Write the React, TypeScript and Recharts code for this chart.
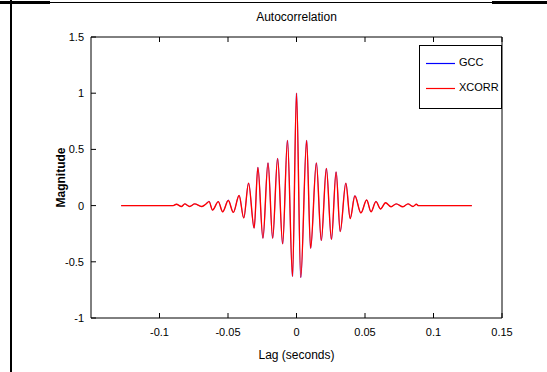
import { Line, LineChart, XAxis, YAxis, Label } from "recharts";

// lag (s) of each turning point
const lags = [
  -0.128, -0.09, -0.0877, -0.084, -0.0816, -0.078, -0.0743, -0.0693, -0.0665, -0.0638, -0.0613, -0.0571,
  -0.0539, -0.0498, -0.0461, -0.0419, -0.0385, -0.035, -0.0309, -0.0282, -0.0245, -0.0208, -0.0174, -0.0138,
  -0.0101, -0.0066, -0.0029, 0, 0.0031, 0.0074, 0.0103, 0.0145, 0.0181, 0.0218, 0.0255, 0.0289, 0.0319,
  0.036, 0.0392, 0.0426, 0.047, 0.0512, 0.0544, 0.058, 0.0613, 0.065, 0.069, 0.0728, 0.0777, 0.0814, 0.085,
  0.0875, 0.089, 0.128,
];

const xcorrValues = [
  0, 0, 0.012, -0.008, 0.015, -0.008, 0.015, -0.008, 0.01, 0.035, -0.04, 0.035,
  -0.055, 0.045, -0.06, 0.09, -0.11, 0.2, -0.2, 0.34, -0.29, 0.38, -0.29, 0.42,
  -0.34, 0.58, -0.63, 1.0, -0.64, 0.58, -0.38, 0.38, -0.31, 0.33, -0.3, 0.3, -0.23,
  0.2, -0.115, 0.085, -0.065, 0.05, -0.055, 0.035, -0.03, 0.025, -0.01, 0.015, -0.01, 0.015, -0.008,
  0.012, 0, 0,
];

const gccValues = [
  0, 0, 0.012, -0.008, 0.015, -0.008, 0.015, -0.008, 0.01, 0.04, -0.04, 0.035,
  -0.055, 0.05, -0.06, 0.09, -0.11, 0.2, -0.2, 0.34, -0.29, 0.38, -0.29, 0.42,
  -0.34, 0.58, -0.63, 1.0, -0.64, 0.58, -0.38, 0.38, -0.31, 0.33, -0.3, 0.3, -0.23,
  0.2, -0.11, 0.09, -0.065, 0.05, -0.055, 0.04, -0.03, 0.025, -0.01, 0.015, -0.01, 0.015, -0.008,
  0.012, 0, 0,
];

const xTicks = [-0.1, -0.05, 0, 0.05, 0.1, 0.15];
const yTicks = [-1, -0.5, 0, 0.5, 1, 1.5];

const data = lags.map((lag, i) => ({ lag, gcc: gccValues[i], xcorr: xcorrValues[i] }));

const font = "'Liberation Sans', Arial, sans-serif";
const tickStyle = { fontSize: 11, fill: "#000", fontFamily: font };
const none = () => "";

export default function App() {
  return (
    <div style={{ position: "fixed", left: 0, top: 0, width: 547, height: 372, background: "#fff", fontFamily: font }}>
      {/* page frame */}
      <div style={{ position: "absolute", left: 10, top: 0, width: 2, height: 372, background: "#000" }} />
      <div style={{ position: "absolute", left: 0, top: 2, width: 547, height: 1, background: "#000" }} />
      <div style={{ position: "absolute", left: 0, top: 1, width: 50, height: 3, background: "#000" }} />
      <div style={{ position: "absolute", left: 492, top: 1, width: 55, height: 3, background: "#000" }} />

      <div style={{ position: "absolute", left: 0, top: 10, width: 593, textAlign: "center", fontSize: 12 }}>
        Autocorrelation
      </div>

      <LineChart width={547} height={372} data={data} margin={{ top: 36, right: 44, bottom: 24, left: 51 }}>
        <XAxis
          xAxisId="b"
          type="number"
          dataKey="lag"
          domain={[-0.15, 0.15]}
          ticks={xTicks}
          allowDataOverflow
          height={30}
          tickSize={-5}
          tickMargin={15}
          tick={tickStyle}
          stroke="#000"
          tickFormatter={(v) => String(v)}
        >
          <Label value="Lag (seconds)" position="insideBottom" offset={-11} style={{ fontSize: 12, fill: "#000", fontFamily: font }} />
        </XAxis>
        <XAxis
          xAxisId="t"
          orientation="top"
          type="number"
          dataKey="lag"
          domain={[-0.15, 0.15]}
          ticks={xTicks}
          allowDataOverflow
          height={1}
          tickSize={-5}
          tickFormatter={none}
          stroke="#000"
        />
        <YAxis
          yAxisId="l"
          type="number"
          domain={[-1, 1.5]}
          ticks={yTicks}
          width={40}
          tickSize={-5}
          tickMargin={12}
          tick={tickStyle}
          stroke="#000"
          tickFormatter={(v) => String(v)}
        >
          <Label
            value="Magnitude"
            angle={-90}
            position="insideLeft"
            offset={10}
            style={{ fontSize: 12, fill: "#000", fontFamily: font, textAnchor: "middle", fontWeight: "bold" }}
          />
        </YAxis>
        <YAxis
          yAxisId="r"
          orientation="right"
          type="number"
          domain={[-1, 1.5]}
          ticks={yTicks}
          width={1}
          tickSize={-5}
          tickFormatter={none}
          stroke="#000"
        />
        <Line
          xAxisId="b"
          yAxisId="l"
          type="monotone"
          dataKey="gcc"
          stroke="#0000ff"
          strokeWidth={0.5}
          dot={false}
          isAnimationActive={false}
        />
        <Line
          xAxisId="b"
          yAxisId="l"
          type="monotone"
          dataKey="xcorr"
          stroke="#ff0000"
          strokeWidth={1.4}
          dot={false}
          isAnimationActive={false}
        />
      </LineChart>

      {/* legend */}
      <div
        style={{
          position: "absolute",
          left: 419,
          top: 45,
          width: 81,
          height: 62,
          border: "1px solid #000",
          background: "#fff",
          fontSize: 11,
        }}
      >
        <svg width={40} height={62} style={{ position: "absolute", left: 0, top: 0 }}>
          <line x1={6} x2={35} y1={17.5} y2={17.5} stroke="#0000ff" strokeWidth={1.2} />
          <line x1={6} x2={35} y1={42.5} y2={42.5} stroke="#ff0000" strokeWidth={1.2} />
        </svg>
        <div style={{ position: "absolute", left: 39, top: 10 }}>GCC</div>
        <div style={{ position: "absolute", left: 39, top: 35 }}>XCORR</div>
      </div>
    </div>
  );
}
